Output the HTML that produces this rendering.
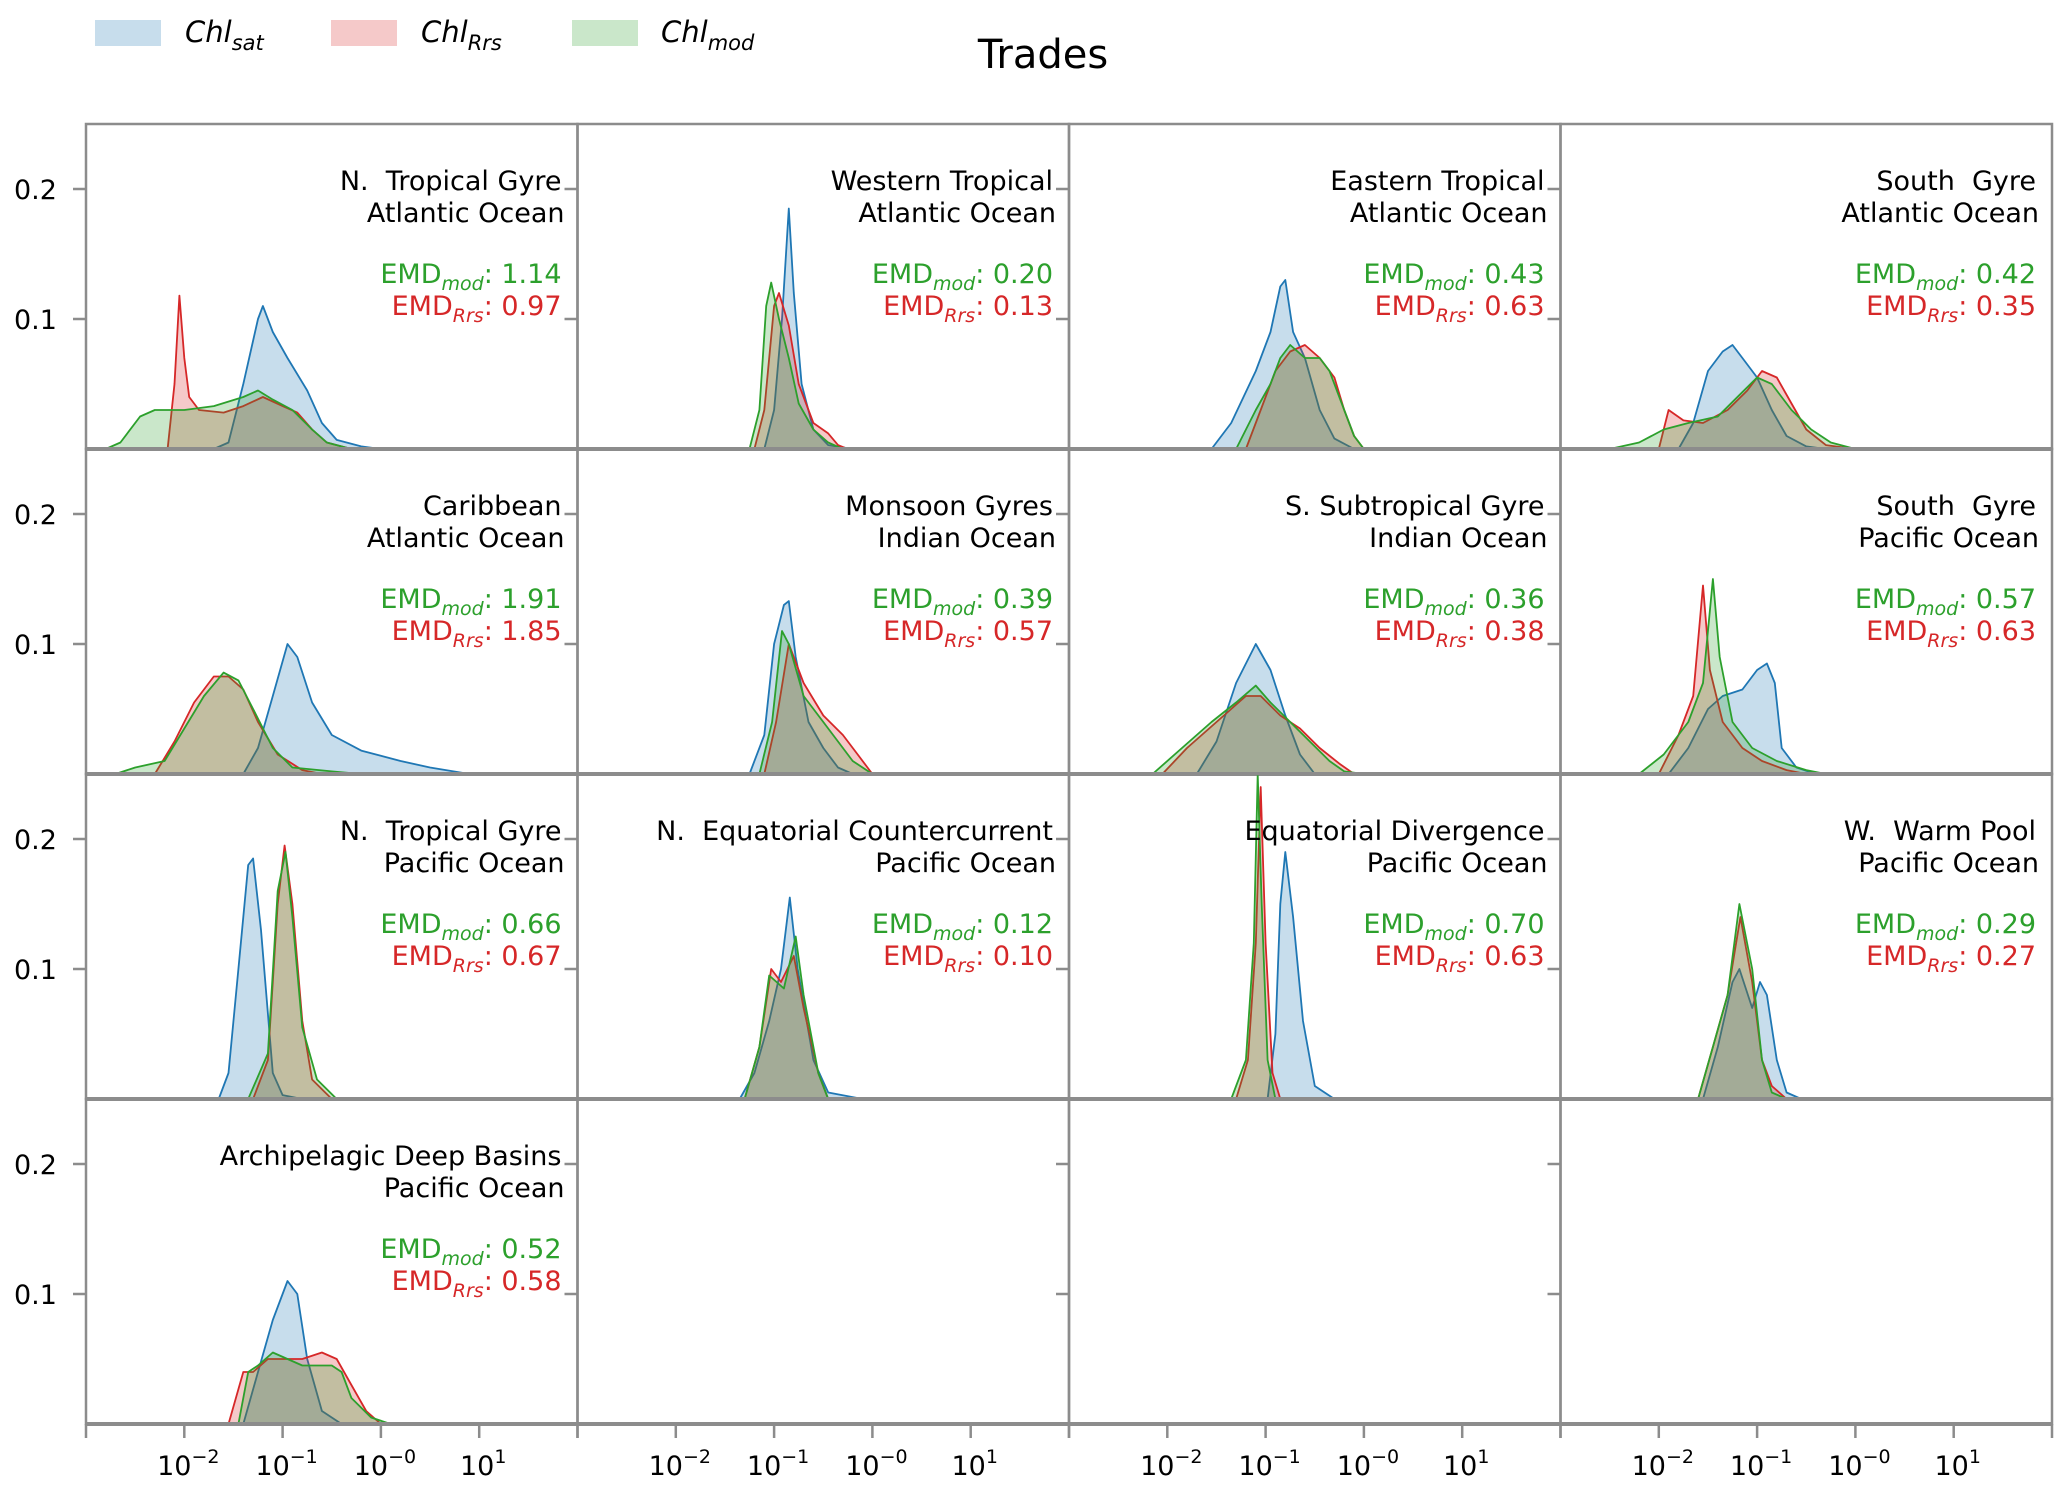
<!DOCTYPE html>
<html><head><meta charset="utf-8"><title>Trades</title>
<style>html,body{margin:0;padding:0;background:#fff}svg{display:block}text{font-family:"DejaVu Sans","Liberation Sans",sans-serif;white-space:pre}</style>
</head><body>
<svg id="chart" width="2067" height="1492" viewBox="0 0 2067 1492" xmlns="http://www.w3.org/2000/svg">
<text x="1043" y="68" font-size="40" text-anchor="middle">Trades</text>
<g>
<g><rect x="95" y="20" width="66" height="26" fill="#1f77b4" fill-opacity="0.25"/><text x="185" y="42" font-size="29" font-style="italic">Chl<tspan font-size="21" dy="8">sat</tspan></text></g>
<g><rect x="331" y="20" width="66" height="26" fill="#d62728" fill-opacity="0.25"/><text x="421" y="42" font-size="29" font-style="italic">Chl<tspan font-size="21" dy="8">Rrs</tspan></text></g>
<g><rect x="572" y="20" width="66" height="26" fill="#2ca02c" fill-opacity="0.25"/><text x="661" y="42" font-size="29" font-style="italic">Chl<tspan font-size="21" dy="8">mod</tspan></text></g>
</g>
<g id="panels"></g>
</svg>
<script>
// Panel titles and metrics
const titles1 = ["N.  Tropical Gyre","Western Tropical","Eastern Tropical","South  Gyre","Caribbean","Monsoon Gyres","S. Subtropical Gyre","South  Gyre","N.  Tropical Gyre","N.  Equatorial Countercurrent","Equatorial Divergence","W.  Warm Pool","Archipelagic Deep Basins"];
const titles2 = ["Atlantic Ocean","Atlantic Ocean","Atlantic Ocean","Atlantic Ocean","Atlantic Ocean","Indian Ocean","Indian Ocean","Pacific Ocean","Pacific Ocean","Pacific Ocean","Pacific Ocean","Pacific Ocean","Pacific Ocean"];
const emdMod = ["1.14","0.20","0.43","0.42","1.91","0.39","0.36","0.57","0.66","0.12","0.70","0.29","0.52"];
const emdRrs = ["0.97","0.13","0.63","0.35","1.85","0.57","0.38","0.63","0.67","0.10","0.63","0.27","0.58"];
const yTicks = [0.1, 0.2];
const yTickLabels = ["0.1", "0.2"];
const xTicks = [-3, -2, -1, 0, 1, 2];
const xTickLabels = {"-2":"\u22122","-1":"\u22121","0":"\u22120","1":"1"};
// density series: [log10(chl), density]
const satSeries = [
[[-1.7,0],[-1.55,0.005],[-1.4,0.05],[-1.25,0.1],[-1.2,0.11],[-1.1,0.09],[-0.95,0.07],[-0.75,0.045],[-0.6,0.02],[-0.45,0.007],[-0.2,0.002],[0,0]],
[[-1.1,0],[-1.0,0.03],[-0.92,0.1],[-0.85,0.185],[-0.8,0.12],[-0.72,0.05],[-0.6,0.015],[-0.45,0.003],[-0.2,0]],
[[-1.55,0],[-1.35,0.02],[-1.1,0.06],[-0.95,0.09],[-0.85,0.125],[-0.8,0.13],[-0.72,0.09],[-0.6,0.07],[-0.45,0.03],[-0.3,0.008],[-0.1,0]],
[[-1.8,0],[-1.65,0.02],[-1.5,0.06],[-1.35,0.075],[-1.25,0.08],[-1.15,0.07],[-1.0,0.055],[-0.85,0.03],[-0.7,0.01],[-0.5,0.002],[-0.3,0]],
[[-1.4,0],[-1.25,0.02],[-1.1,0.06],[-0.95,0.1],[-0.85,0.09],[-0.7,0.055],[-0.5,0.03],[-0.2,0.018],[0.2,0.01],[0.5,0.005],[0.9,0]],
[[-1.25,0],[-1.1,0.03],[-1.0,0.1],[-0.9,0.13],[-0.85,0.133],[-0.78,0.09],[-0.65,0.04],[-0.5,0.02],[-0.35,0.005],[-0.2,0]],
[[-1.7,0],[-1.5,0.025],[-1.3,0.07],[-1.1,0.1],[-0.95,0.08],[-0.8,0.045],[-0.65,0.015],[-0.5,0]],
[[-1.9,0],[-1.7,0.02],[-1.5,0.05],[-1.35,0.06],[-1.15,0.065],[-1.0,0.08],[-0.9,0.085],[-0.82,0.07],[-0.75,0.02],[-0.6,0.005],[-0.4,0]],
[[-1.65,0],[-1.55,0.02],[-1.45,0.1],[-1.35,0.18],[-1.3,0.185],[-1.22,0.13],[-1.1,0.02],[-1.0,0.003],[-0.8,0]],
[[-1.35,0],[-1.2,0.02],[-1.05,0.06],[-0.93,0.1],[-0.84,0.155],[-0.76,0.1],[-0.6,0.03],[-0.45,0.005],[-0.1,0]],
[[-0.98,0],[-0.9,0.05],[-0.85,0.15],[-0.8,0.19],[-0.72,0.14],[-0.62,0.06],[-0.5,0.01],[-0.3,0]],
[[-1.55,0],[-1.4,0.04],[-1.25,0.09],[-1.18,0.1],[-1.05,0.07],[-0.97,0.09],[-0.9,0.08],[-0.8,0.03],[-0.7,0.005],[-0.55,0]],
[[-1.4,0],[-1.25,0.04],[-1.1,0.08],[-0.95,0.11],[-0.85,0.1],[-0.75,0.05],[-0.6,0.01],[-0.4,0]]
];
const rrsSeries = [
[[-2.17,0],[-2.1,0.05],[-2.05,0.118],[-2.0,0.07],[-1.95,0.04],[-1.85,0.03],[-1.6,0.028],[-1.4,0.033],[-1.2,0.04],[-1.0,0.033],[-0.85,0.028],[-0.7,0.015],[-0.55,0.005],[-0.3,0]],
[[-1.2,0],[-1.1,0.03],[-1.0,0.11],[-0.95,0.12],[-0.85,0.095],[-0.75,0.05],[-0.6,0.02],[-0.45,0.012],[-0.35,0.003],[-0.25,0]],
[[-1.2,0],[-1.05,0.03],[-0.9,0.06],[-0.75,0.075],[-0.6,0.08],[-0.45,0.07],[-0.3,0.055],[-0.2,0.03],[-0.1,0.01],[0,0]],
[[-2.0,0],[-1.9,0.03],[-1.75,0.022],[-1.55,0.02],[-1.3,0.03],[-1.1,0.045],[-0.95,0.06],[-0.8,0.055],[-0.65,0.035],[-0.5,0.015],[-0.3,0.003],[0,0]],
[[-2.3,0],[-2.1,0.025],[-1.9,0.055],[-1.7,0.075],[-1.55,0.075],[-1.4,0.065],[-1.25,0.04],[-1.05,0.015],[-0.8,0.003],[-0.6,0]],
[[-1.1,0],[-0.98,0.04],[-0.85,0.1],[-0.7,0.07],[-0.5,0.045],[-0.3,0.03],[-0.15,0.015],[-0.05,0.005],[0,0]],
[[-2.05,0],[-1.8,0.02],[-1.5,0.04],[-1.2,0.06],[-1.05,0.06],[-0.85,0.045],[-0.65,0.035],[-0.45,0.02],[-0.25,0.008],[-0.1,0]],
[[-2.0,0],[-1.8,0.03],[-1.65,0.06],[-1.55,0.145],[-1.48,0.08],[-1.35,0.04],[-1.15,0.02],[-0.95,0.01],[-0.7,0.003],[-0.5,0]],
[[-1.3,0],[-1.15,0.03],[-1.05,0.15],[-0.98,0.195],[-0.9,0.15],[-0.8,0.06],[-0.7,0.015],[-0.5,0]],
[[-1.3,0],[-1.15,0.04],[-1.03,0.1],[-0.93,0.09],[-0.8,0.11],[-0.7,0.07],[-0.55,0.02],[-0.45,0]],
[[-1.3,0],[-1.18,0.03],[-1.1,0.12],[-1.05,0.24],[-1.0,0.12],[-0.93,0.02],[-0.85,0]],
[[-1.6,0],[-1.45,0.04],[-1.3,0.08],[-1.17,0.14],[-1.05,0.09],[-0.95,0.03],[-0.85,0.01],[-0.7,0]],
[[-1.55,0],[-1.4,0.04],[-1.3,0.04],[-1.15,0.05],[-1.0,0.05],[-0.8,0.05],[-0.6,0.055],[-0.45,0.05],[-0.3,0.03],[-0.15,0.01],[0,0]]
];
const modSeries = [
[[-2.8,0],[-2.65,0.005],[-2.45,0.025],[-2.3,0.03],[-2.0,0.03],[-1.7,0.033],[-1.4,0.04],[-1.25,0.045],[-1.1,0.038],[-0.9,0.03],[-0.7,0.015],[-0.55,0.005],[-0.3,0]],
[[-1.25,0],[-1.15,0.03],[-1.08,0.11],[-1.03,0.128],[-0.95,0.1],[-0.85,0.07],[-0.75,0.035],[-0.6,0.015],[-0.45,0.005],[-0.3,0]],
[[-1.3,0],[-1.1,0.03],[-0.95,0.05],[-0.85,0.07],[-0.75,0.08],[-0.6,0.07],[-0.45,0.07],[-0.35,0.06],[-0.25,0.04],[-0.1,0.01],[0,0]],
[[-2.5,0],[-2.2,0.005],[-1.95,0.015],[-1.7,0.02],[-1.4,0.025],[-1.2,0.04],[-1.0,0.055],[-0.85,0.05],[-0.65,0.03],[-0.45,0.015],[-0.25,0.005],[0,0]],
[[-2.7,0],[-2.5,0.005],[-2.2,0.01],[-2.0,0.035],[-1.8,0.06],[-1.6,0.078],[-1.45,0.072],[-1.3,0.05],[-1.1,0.02],[-0.9,0.005],[-0.5,0.002],[-0.2,0]],
[[-1.15,0],[-1.02,0.04],[-0.92,0.11],[-0.85,0.1],[-0.7,0.06],[-0.5,0.04],[-0.35,0.025],[-0.2,0.01],[0,0]],
[[-2.15,0],[-1.85,0.02],[-1.55,0.04],[-1.3,0.055],[-1.1,0.068],[-0.95,0.055],[-0.75,0.04],[-0.55,0.025],[-0.35,0.01],[-0.2,0.002],[0,0]],
[[-2.2,0],[-1.95,0.015],[-1.7,0.04],[-1.55,0.07],[-1.45,0.15],[-1.38,0.09],[-1.25,0.04],[-1.05,0.02],[-0.8,0.01],[-0.5,0.003],[-0.3,0]],
[[-1.35,0],[-1.15,0.035],[-1.05,0.16],[-0.97,0.19],[-0.9,0.14],[-0.8,0.055],[-0.65,0.015],[-0.45,0]],
[[-1.3,0],[-1.15,0.04],[-1.05,0.095],[-0.9,0.085],[-0.78,0.125],[-0.7,0.08],[-0.55,0.02],[-0.45,0]],
[[-1.35,0],[-1.2,0.03],[-1.12,0.12],[-1.08,0.25],[-1.04,0.15],[-0.98,0.03],[-0.9,0]],
[[-1.6,0],[-1.45,0.04],[-1.3,0.08],[-1.18,0.15],[-1.05,0.1],[-0.95,0.03],[-0.85,0.005],[-0.7,0]],
[[-1.45,0],[-1.35,0.04],[-1.25,0.045],[-1.1,0.055],[-0.95,0.05],[-0.8,0.045],[-0.5,0.045],[-0.4,0.04],[-0.3,0.02],[-0.1,0.005],[0.1,0]]
];

const NS = "http://www.w3.org/2000/svg";
const colW = 491.5;
const colLeft = [86, 86 + colW, 86 + 2 * colW, 86 + 3 * colW];
const rowTop = [124, 449, 774, 1099], rowH = 325;
const xMin = -3, xMax = 2, yMax = 0.25;
const root = document.getElementById('panels');
function el(tag, attrs, parent) {
  const e = document.createElementNS(NS, tag);
  for (const k in attrs) e.setAttribute(k, attrs[k]);
  parent.appendChild(e);
  return e;
}
const colors = {sat: "#1f77b4", rrs: "#d62728", mod: "#2ca02c"};
const grey = "#8c8c8c";

for (let i = 0; i < 16; i++) {
  const r = Math.floor(i / 4), c = i % 4;
  const L = colLeft[c], T = rowTop[r], B = T + rowH, R = L + colW;
  const xs = v => L + (v - xMin) / (xMax - xMin) * colW;
  const ys = v => B - v / yMax * rowH;
  const g = el('g', {}, root);
  
  
  if (i < 13) {
    [["sat", satSeries], ["rrs", rrsSeries], ["mod", modSeries]].forEach(([key, arr]) => {
      const pts = arr[i].map(p => xs(p[0]).toFixed(1) + "," + ys(p[1]).toFixed(1));
      const area = el('polygon', {points: pts.join(" ") + " " + xs(arr[i][arr[i].length-1][0]).toFixed(1) + "," + B + " " + xs(arr[i][0][0]).toFixed(1) + "," + B, fill: colors[key], 'fill-opacity': 0.25, stroke: 'none'}, g);
      
      
      const line = el('polyline', {points: pts.join(" "), fill: 'none', stroke: colors[key], 'stroke-width': 1.8, 'stroke-linejoin': 'round'}, g);
      
      
    });
    const tx = R - 16;
    const t1 = el('text', {x: tx, y: T + 66, 'font-size': 27, 'text-anchor': 'end'}, g);
    t1.textContent = titles1[i];
    
    
    const t2 = el('text', {x: tx + 3, y: T + 98, 'font-size': 27, 'text-anchor': 'end'}, g);
    t2.textContent = titles2[i];
    
    
    const e1 = el('text', {x: tx, y: T + 159, 'font-size': 27, 'text-anchor': 'end', fill: '#2ca02c'}, g);
    e1.innerHTML = 'EMD<tspan font-size="19" font-style="italic" dy="7">mod</tspan><tspan dy="-7">: ' + emdMod[i] + '</tspan>';
    
    
    const e2 = el('text', {x: tx, y: T + 191, 'font-size': 27, 'text-anchor': 'end', fill: '#d62728'}, g);
    e2.innerHTML = 'EMD<tspan font-size="19" font-style="italic" dy="7">Rrs</tspan><tspan dy="-7">: ' + emdRrs[i] + '</tspan>';
    
    
  }
  // spines
  el('rect', {x: L, y: T, width: colW, height: rowH, fill: 'none', stroke: grey, 'stroke-width': 2.5}, g);
  el('line', {x1: L, x2: R, y1: B, y2: B, stroke: grey, 'stroke-width': 4}, g);
  // y ticks
  yTicks.forEach((v, k) => {
    el('line', {x1: L - 13, x2: L, y1: ys(v), y2: ys(v), stroke: grey, 'stroke-width': 2.5}, g);
    if (c === 0) {
      const tl = el('text', {x: 14, y: ys(v) + 10, 'font-size': 27}, g);
      tl.textContent = yTickLabels[k];
      
      
    }
  });
  if (r === 3) {
    xTicks.forEach(v => {
      el('line', {x1: xs(v), x2: xs(v), y1: B, y2: B + 14, stroke: grey, 'stroke-width': 2.5}, g);
      if (xTickLabels[v] !== undefined) {
        const tl = el('text', {x: xs(v) + 4, y: B + 51, 'font-size': 27, 'text-anchor': 'middle'}, g);
        tl.innerHTML = '10<tspan font-size="19" dy="-12">' + xTickLabels[v] + '</tspan>';
        
        
      }
    });
  }
}
</script>
</body></html>
